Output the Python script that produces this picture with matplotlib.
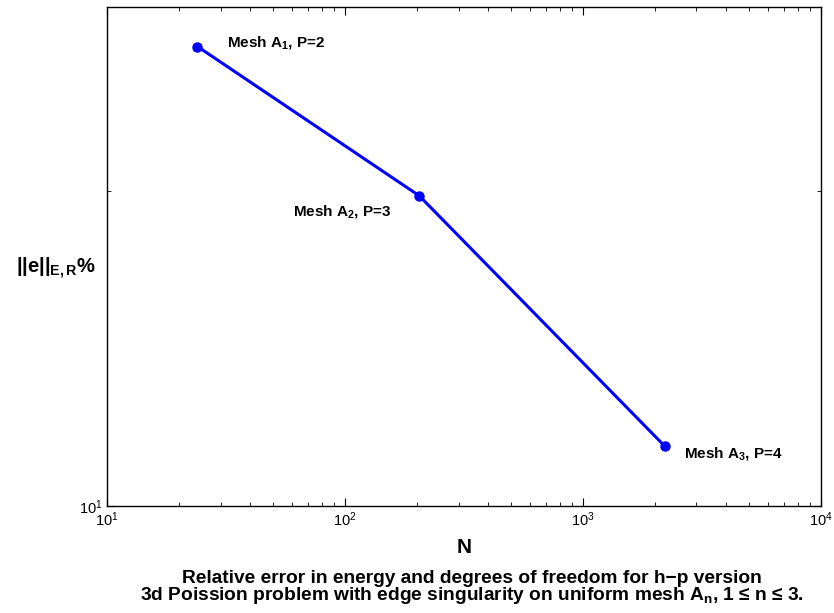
import matplotlib
matplotlib.use("Agg")
from matplotlib import pyplot as plt
from matplotlib import ticker
import numpy as np

# degrees of freedom and relative error (%)
dof = [24, 205, 2213]
err = [27.5, 19.8, 11.4]
labels = ["Mesh A$_1$, P=2", "Mesh A$_2$, P=3", "Mesh A$_3$, P=4"]

plt.rcParams['font.family'] = ['Liberation Sans', 'DejaVu Sans']
plt.rcParams['mathtext.fontset'] = 'custom'
plt.rcParams['mathtext.rm'] = 'Liberation Sans'
plt.rcParams['mathtext.bf'] = 'Liberation Sans:bold'
plt.rcParams['mathtext.default'] = 'regular'

fig = plt.figure(figsize=(8.34, 6.13), dpi=100)
ax = fig.add_axes([0.1283, 0.1746, 0.856, 0.814])

ax.plot(dof, err, color='#0000ff', lw=2.2, marker='o', ms=6.5)
ax.set_xscale('log')
ax.set_yscale('log')
ax.set_xlim(10, 1e4)
ax.set_ylim(10, 30)

ax.yaxis.set_major_locator(ticker.FixedLocator([10]))
ax.yaxis.set_minor_locator(ticker.FixedLocator([20, 30]))
ax.yaxis.set_minor_formatter(ticker.NullFormatter())
ax.xaxis.set_minor_formatter(ticker.NullFormatter())

ax.tick_params(which='both', direction='in', top=True, right=True, labelsize=10.5)
ax.tick_params(which='major', length=6)
ax.tick_params(which='minor', length=3)
for s in ax.spines.values():
    s.set_linewidth(1.0)

# point annotations (offsets in points)
offs = [(21, 3), (-91, -11.5), (14, -5)]
for x, y, t, o in zip(dof, err, labels, offs):
    ax.annotate(t, (x, y), xytext=o, textcoords='offset points',
                fontsize=11, fontweight='bold', va='center', ha='left')

ax.set_xlabel('N', fontsize=15, fontweight='bold', labelpad=6)
ax.set_ylabel('||e||$_{E,R}$%', fontsize=14.5, fontweight='bold', rotation=0,
              ha='right', va='center')
ax.yaxis.set_label_coords(-0.015, 0.477)

fig.text(0.566, 0.041,
         'Relative error in energy and degrees of freedom for h\u2212p version\n'
         '3d Poission problem with edge singularity on uniform mesh A$_n$, 1 \u2264 n \u2264 3.',
         ha='center', va='center', fontsize=13.8, fontweight='bold', linespacing=0.82)

fig.savefig('out.png', dpi=100)
